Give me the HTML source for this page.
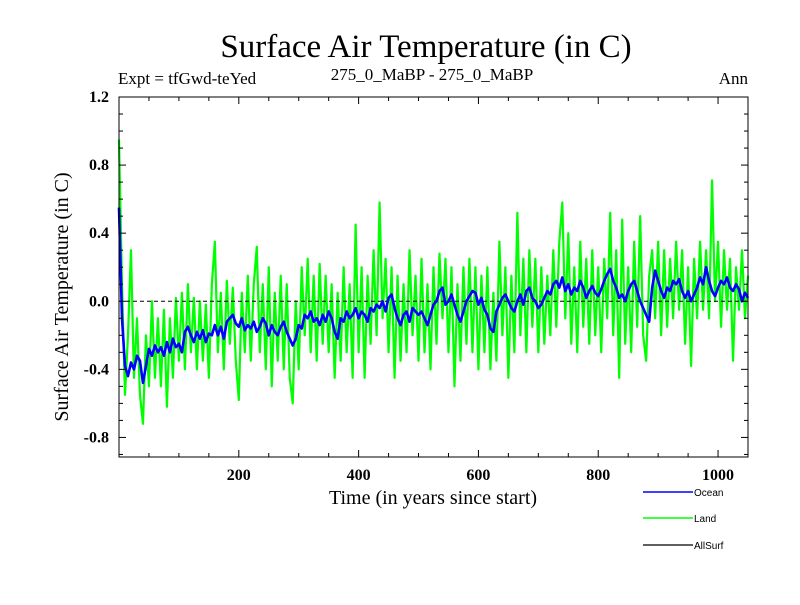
<!DOCTYPE html>
<html><head><meta charset="utf-8"><style>
html,body{margin:0;padding:0;background:#fff;}
svg text{font-family:"Liberation Serif",serif;fill:#000;}
</style></head><body>
<svg id="chart" width="800" height="600" xmlns="http://www.w3.org/2000/svg">
<rect width="800" height="600" fill="#fff"/>
<text x="426" y="57" font-size="33" text-anchor="middle">Surface Air Temperature (in C)</text>
<text x="118" y="84" font-size="17">Expt = tfGwd-teYed</text>
<text x="432" y="80" font-size="17" text-anchor="middle">275_0_MaBP - 275_0_MaBP</text>
<text x="748" y="84" font-size="17" text-anchor="end">Ann</text>
<g id="plot"></g>
<text x="433" y="504" font-size="20" text-anchor="middle">Time (in years since start)</text>
<text transform="translate(68,297) rotate(-90)" font-size="20" text-anchor="middle">Surface Air Temperature (in C)</text>
<g>
<line x1="643" y1="492" x2="693" y2="492" stroke="#0000ff" stroke-width="1.5"/>
<text x="694" y="496" font-size="10" style="font-family:'Liberation Sans',sans-serif">Ocean</text>
<line x1="643" y1="518" x2="693" y2="518" stroke="#00ff00" stroke-width="1.5"/>
<text x="694" y="522" font-size="10" style="font-family:'Liberation Sans',sans-serif">Land</text>
<line x1="643" y1="545" x2="693" y2="545" stroke="#000" stroke-width="1.2"/>
<text x="694" y="549" font-size="10" style="font-family:'Liberation Sans',sans-serif">AllSurf</text>
</g>
</svg>
<script>
const yearStep = 5;
const oceanValues = [0.55,-0.1,-0.38,-0.44,-0.36,-0.4,-0.32,-0.35,-0.48,-0.38,-0.28,-0.32,-0.26,-0.3,-0.27,-0.32,-0.24,-0.3,-0.22,-0.27,-0.25,-0.3,-0.18,-0.15,-0.2,-0.24,-0.18,-0.22,-0.17,-0.24,-0.19,-0.2,-0.14,-0.2,-0.15,-0.22,-0.12,-0.1,-0.08,-0.13,-0.15,-0.1,-0.17,-0.14,-0.16,-0.12,-0.18,-0.15,-0.1,-0.13,-0.2,-0.14,-0.18,-0.2,-0.15,-0.12,-0.18,-0.22,-0.26,-0.22,-0.14,-0.16,-0.08,-0.1,-0.06,-0.12,-0.1,-0.14,-0.08,-0.12,-0.06,-0.1,-0.18,-0.22,-0.1,-0.12,-0.06,-0.1,-0.08,-0.04,-0.1,-0.06,-0.08,-0.12,-0.04,-0.06,-0.02,-0.04,0.0,-0.06,0.02,0.04,-0.04,-0.1,-0.14,-0.08,-0.06,-0.12,-0.04,-0.06,-0.08,-0.06,-0.1,-0.14,-0.08,-0.02,0.0,0.06,0.08,-0.02,0.0,0.04,-0.02,-0.08,-0.12,-0.06,0.0,0.03,0.06,0.05,-0.02,0.02,-0.05,-0.08,-0.16,-0.18,-0.06,-0.02,0.02,0.04,0.0,-0.04,-0.06,0.0,0.04,-0.02,0.06,0.08,0.02,0.0,-0.04,-0.02,0.02,0.06,0.04,0.1,0.12,0.08,0.14,0.06,0.1,0.04,0.08,0.06,0.12,0.08,0.02,0.06,0.09,0.05,0.03,0.07,0.12,0.16,0.19,0.12,0.08,0.02,0.04,0.0,0.06,0.1,0.12,0.06,0.0,-0.04,-0.08,-0.12,0.08,0.18,0.12,0.06,0.02,0.08,0.06,0.12,0.1,0.13,0.06,0.02,0.06,0.0,0.04,0.08,0.14,0.1,0.2,0.12,0.06,0.03,0.08,0.12,0.1,0.14,0.08,0.06,0.1,0.07,0.0,0.05,0.02];
const landValues = [0.95,0.1,-0.55,-0.2,0.3,-0.45,-0.1,-0.55,-0.72,-0.2,-0.5,0.0,-0.45,-0.1,-0.5,-0.05,-0.62,-0.1,-0.45,0.02,-0.35,0.05,-0.4,0.1,-0.3,0.02,-0.4,0.0,-0.35,-0.02,-0.45,0.1,0.35,-0.3,0.05,-0.4,0.12,-0.25,0.08,-0.35,-0.58,0.05,-0.3,0.15,-0.35,0.1,0.32,-0.3,0.1,-0.4,0.2,-0.5,0.05,-0.35,0.15,-0.4,0.1,-0.45,-0.6,0.0,-0.4,0.2,-0.2,0.25,-0.3,0.15,-0.35,0.22,-0.25,0.15,-0.3,0.1,-0.45,0.05,-0.35,0.2,-0.3,0.1,-0.45,0.45,-0.3,0.2,-0.45,0.15,-0.25,0.3,-0.2,0.58,-0.1,0.25,-0.3,0.2,-0.45,0.15,-0.35,0.1,-0.3,0.3,-0.2,0.15,-0.35,0.25,-0.3,0.1,-0.4,0.2,-0.25,0.28,-0.1,0.25,-0.3,0.2,-0.5,0.1,-0.35,0.2,-0.25,0.25,-0.3,0.2,-0.4,0.15,-0.3,0.2,-0.4,0.05,-0.35,0.35,-0.2,0.2,-0.45,0.15,-0.3,0.52,-0.2,0.25,-0.3,0.3,-0.15,0.25,-0.3,0.2,-0.25,0.15,-0.2,0.3,-0.15,0.35,0.58,-0.1,0.4,-0.25,0.2,-0.3,0.35,-0.15,0.25,-0.25,0.3,-0.2,0.2,-0.3,0.25,-0.1,0.52,-0.2,0.3,-0.45,0.48,-0.25,0.2,-0.3,0.35,-0.15,0.5,-0.2,-0.35,0.15,0.3,-0.1,0.35,-0.2,0.3,-0.15,0.25,-0.1,0.35,-0.05,0.3,-0.25,0.2,-0.38,0.25,-0.1,0.35,-0.05,0.3,-0.1,0.71,0.0,0.35,-0.15,0.3,-0.05,0.25,-0.35,0.2,-0.05,0.3,-0.1,0.15];
const xTickValues = [200,400,600,800,1000];
const yTickValues = [-0.8,-0.4,0.0,0.4,0.8,1.2];
const yTickLabels = ["-0.8","-0.4","0.0","0.4","0.8","1.2"];

const NS = "http://www.w3.org/2000/svg";
const L = 119, R = 748, T = 97, B = 457;
const xMin = 0, xMax = 1050, yMin = -0.915, yMax = 1.2;
function xs(v){ return L + (v - xMin) / (xMax - xMin) * (R - L); }
function ys(v){ return B - (v - yMin) / (yMax - yMin) * (B - T); }
const plot = document.getElementById('plot');
function mk(tag, attrs, parent){
  const e = document.createElementNS(NS, tag);
  for (const k in attrs) e.setAttribute(k, attrs[k]);
  (parent || plot).appendChild(e);
  return e;
}
function pathFor(vals){
  return vals.map((v,i)=>(i?'L':'M')+xs(i*yearStep).toFixed(2)+' '+ys(v).toFixed(2)).join(' ');
}
const land = mk('path', {d: pathFor(landValues), fill:'none', stroke:'#00ff00', 'stroke-width':'2.2', 'stroke-linejoin':'round'});


const zero = mk('line', {x1:L, x2:R, y1:ys(0), y2:ys(0), stroke:'#000', 'stroke-width':'1', 'stroke-dasharray':'4,3'});


const allsurf = mk('path', {d: pathFor(oceanValues), fill:'none', stroke:'#000', 'stroke-width':'1'});


const ocean = mk('path', {d: pathFor(oceanValues), fill:'none', stroke:'#0000ff', 'stroke-width':'2.6', 'stroke-linejoin':'round'});


const frame = mk('rect', {x:L, y:T, width:R-L, height:B-T, fill:'none', stroke:'#000', 'stroke-width':'1'});


for (let v = 50; v <= 1050; v += 50) {
  const major = v % 200 === 0;
  const len = major ? 7 : 4;
  const tb = mk('line', {x1:xs(v), x2:xs(v), y1:B, y2:B-len, stroke:'#000'});
  
  
  const tt = mk('line', {x1:xs(v), x2:xs(v), y1:T, y2:T+len, stroke:'#000'});
  
  
}
for (let k = -9; k <= 12; k++) {
  const v = k / 10;
  if (v < yMin) continue;
  const major = (k % 4 === 0);
  const len = major ? 7 : 4;
  const tl = mk('line', {x1:L, x2:L+len, y1:ys(v), y2:ys(v), stroke:'#000'});
  
  
  const tr = mk('line', {x1:R, x2:R-len, y1:ys(v), y2:ys(v), stroke:'#000'});
  
  
}
xTickValues.forEach(v=>{
  const t = mk('text', {x:xs(v), y:B+23, 'font-size':'16', 'font-weight':'bold', 'text-anchor':'middle'});
  t.textContent = String(v);
  
  
});
yTickValues.forEach((v,i)=>{
  const t = mk('text', {x:L-10, y:ys(v)+5, 'font-size':'16', 'font-weight':'bold', 'text-anchor':'end'});
  t.textContent = yTickLabels[i];
  
  
});
</script>
</body></html>
